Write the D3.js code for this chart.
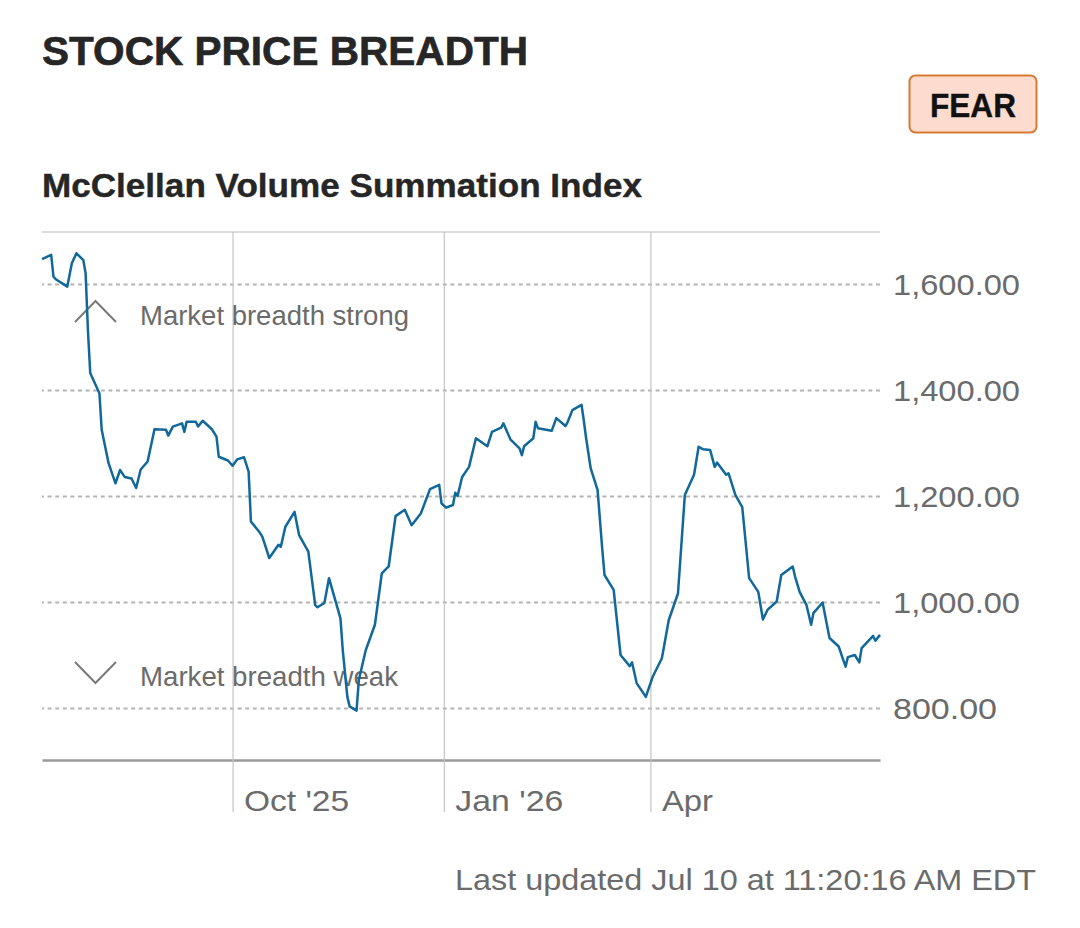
<!DOCTYPE html>
<html>
<head>
<meta charset="utf-8">
<script src="https://cdn.jsdelivr.net/npm/d3@7"></script>
<style>
  html, body { margin: 0; padding: 0; background: #ffffff; }
  svg { display: block; }
  text { font-family: "Liberation Sans", Arial, Helvetica, sans-serif; }
</style>
</head>
<body>
<svg id="chart" width="1080" height="928"></svg>
<script>
// ---- data ----
const dates = [
  "2025-07-10","2025-07-14","2025-07-15","2025-07-16","2025-07-21","2025-07-23","2025-07-25","2025-07-28","2025-07-29","2025-07-30",
  "2025-07-31","2025-08-04","2025-08-05","2025-08-08","2025-08-11","2025-08-13","2025-08-15","2025-08-18","2025-08-20","2025-08-22",
  "2025-08-25","2025-08-28","2025-09-02","2025-09-03","2025-09-05","2025-09-09","2025-09-10","2025-09-11","2025-09-15","2025-09-16",
  "2025-09-18","2025-09-22","2025-09-24","2025-09-25","2025-09-29","2025-10-01","2025-10-03","2025-10-06","2025-10-08","2025-10-09",
  "2025-10-13","2025-10-14","2025-10-17","2025-10-21","2025-10-22","2025-10-24","2025-10-28","2025-10-30","2025-11-03","2025-11-06",
  "2025-11-07","2025-11-10","2025-11-12","2025-11-17","2025-11-18","2025-11-20","2025-11-21","2025-11-24","2025-11-25","2025-11-28",
  "2025-12-02","2025-12-05","2025-12-08","2025-12-11","2025-12-15","2025-12-18","2025-12-22","2025-12-26","2025-12-30","2025-12-31",
  "2026-01-02","2026-01-05","2026-01-06","2026-01-07","2026-01-09","2026-01-12","2026-01-15","2026-01-20","2026-01-22","2026-01-26",
  "2026-01-27","2026-01-30","2026-02-03","2026-02-04","2026-02-05","2026-02-09","2026-02-10","2026-02-11","2026-02-17","2026-02-19",
  "2026-02-23","2026-02-24","2026-02-26","2026-03-02","2026-03-03","2026-03-04","2026-03-06","2026-03-09","2026-03-11","2026-03-12",
  "2026-03-16","2026-03-19","2026-03-23","2026-03-24","2026-03-26","2026-03-30","2026-04-02","2026-04-06","2026-04-09","2026-04-13",
  "2026-04-16","2026-04-20","2026-04-22","2026-04-24","2026-04-27","2026-04-29","2026-04-30","2026-05-04","2026-05-05","2026-05-08",
  "2026-05-11","2026-05-14","2026-05-18","2026-05-20","2026-05-22","2026-05-26","2026-05-28","2026-06-02","2026-06-03","2026-06-05",
  "2026-06-08","2026-06-10","2026-06-11","2026-06-15","2026-06-18","2026-06-22","2026-06-25","2026-06-26","2026-06-29","2026-07-01",
  "2026-07-02","2026-07-07","2026-07-08","2026-07-10"
];
const values = [
  1647,1655,1614,1609,1595,1639,1658,1645,1620,1513,
  1432,1394,1325,1262,1224,1249,1236,1233,1215,1250,
  1265,1326,1325,1314,1331,1337,1321,1340,1340,1331,
  1342,1326,1312,1274,1267,1257,1269,1273,1246,1152,
  1130,1123,1083,1108,1104,1142,1170,1126,1095,994,
  990,998,1045,969,909,821,803,795,853,909,
  957,1054,1067,1162,1174,1145,1167,1213,1221,1186,
  1178,1183,1206,1200,1236,1255,1309,1294,1321,1329,
  1337,1307,1290,1277,1294,1309,1340,1328,1323,1347,
  1332,1340,1362,1372,1342,1309,1252,1211,1101,1051,
  1023,900,879,886,847,821,859,894,966,1016,
  1202,1240,1293,1288,1287,1255,1263,1240,1243,1202,
  1179,1045,1019,967,985,1001,1051,1067,1048,1019,
  994,957,979,999,932,916,878,896,900,886,
  913,936,927,938
];
const yTicks = [800, 1000, 1200, 1400, 1600];
const xTickDates = ["2025-10-01", "2026-01-01", "2026-04-01"];
const xTickLabels = ["Oct '25", "Jan '26", "Apr"];
const domainStart = "2025-07-10";
const domainEnd = "2026-07-10";
const yDomain = [700, 1700];
const titleText = "STOCK PRICE BREADTH";
const subtitleText = "McClellan Volume Summation Index";
const badgeText = "FEAR";
const strongText = "Market breadth strong";
const weakText = "Market breadth weak";
const footerText = "Last updated Jul 10 at 11:20:16 AM EDT";

// ---- drawing ----
(function draw() {
  const parse = d3.timeParse("%Y-%m-%d");
  const data = dates.map((d, i) => ({ date: parse(d), value: values[i] }));

  const svg = d3.select("#chart");
  const pLeft = 42, pRight = 880, pTop = 231, pBottom = 761;
  const grey = "#6b6b6b";
  const xLabelWidths = [105, 108, 51];

  const x = d3.scaleTime().domain([parse(domainStart), parse(domainEnd)]).range([pLeft, pRight]);
  const y = d3.scaleLinear().domain(yDomain).range([pBottom, pTop]);

  // Title
  svg.append("text").attr("x", 42).attr("y", 65)
    .attr("font-size", 40).attr("font-weight", 700).attr("fill", "#262626")
    .attr("stroke", "#262626").attr("stroke-width", 0.6)
    .attr("textLength", 486).attr("lengthAdjust", "spacingAndGlyphs")
    .text(titleText);

  // Badge
  svg.append("rect").attr("x", 909.5).attr("y", 75.5).attr("width", 127).attr("height", 57)
    .attr("rx", 6).attr("fill", "#fddccf").attr("stroke", "#d57a35").attr("stroke-width", 2);
  svg.append("text").attr("x", 973).attr("y", 116.5).attr("text-anchor", "middle")
    .attr("font-size", 34).attr("font-weight", 700).attr("fill", "#111")
    .attr("stroke", "#111").attr("stroke-width", 0.4)
    .attr("textLength", 86).attr("lengthAdjust", "spacingAndGlyphs")
    .text(badgeText);

  // Subtitle
  svg.append("text").attr("x", 42).attr("y", 197)
    .attr("font-size", 33).attr("font-weight", 700).attr("fill", "#262626")
    .attr("stroke", "#262626").attr("stroke-width", 0.4)
    .attr("textLength", 600).attr("lengthAdjust", "spacingAndGlyphs")
    .text(subtitleText);

  // top border line
  svg.append("line").attr("x1", pLeft).attr("x2", pRight).attr("y1", 232).attr("y2", 232)
    .attr("stroke", "#cfcfcf").attr("stroke-width", 1.5);

  // Y axis with dotted gridlines
  const yAxis = d3.axisRight(y).tickValues(yTicks)
    .tickFormat(d3.format(",.2f")).tickSize(-(pRight - pLeft)).tickPadding(13);
  const gy = svg.append("g").attr("transform", `translate(${pRight},0)`).call(yAxis);
  gy.select(".domain").remove();
  gy.selectAll(".tick line").attr("stroke", "#b3b3b3").attr("stroke-width", 2)
    .attr("stroke-dasharray", "4,3.6");
  gy.selectAll(".tick text").attr("fill", grey).attr("font-size", 30)
    .attr("font-family", "'Liberation Sans', Arial, sans-serif")
    .attr("x", 13).attr("dy", "0.36em")
    .attr("textLength", d => d >= 1000 ? 127 : 104).attr("lengthAdjust", "spacingAndGlyphs");

  // X axis with vertical gridlines
  const xAxis = d3.axisBottom(x).tickValues(xTickDates.map(parse))
    .tickFormat((d, i) => xTickLabels[i]).tickSize(52).tickSizeOuter(0);
  const gx = svg.append("g").attr("transform", `translate(0,760)`).call(xAxis);
  gx.select(".domain").attr("stroke", "#9a9a9a").attr("stroke-width", 2.5);
  gx.selectAll(".tick line").attr("y1", -(760 - 232)).attr("stroke", "#c4c4c4").attr("stroke-width", 1.2);
  gx.selectAll(".tick text").attr("fill", grey).attr("font-size", 30)
    .attr("font-family", "'Liberation Sans', Arial, sans-serif")
    .attr("text-anchor", "start").attr("x", 11).attr("y", 51).attr("dy", null)
    .attr("textLength", (d, i) => xLabelWidths[i]).attr("lengthAdjust", "spacingAndGlyphs");

  // annotations
  svg.append("path").attr("d", "M75,322 L95.5,301 L116,322")
    .attr("fill", "none").attr("stroke", "#7a7a7a").attr("stroke-width", 2);
  svg.append("text").attr("x", 140).attr("y", 325).attr("font-size", 27.5).attr("fill", grey)
    .attr("textLength", 269).attr("lengthAdjust", "spacingAndGlyphs").text(strongText);
  svg.append("path").attr("d", "M75,662 L95.5,683 L116,662")
    .attr("fill", "none").attr("stroke", "#7a7a7a").attr("stroke-width", 2);
  svg.append("text").attr("x", 140).attr("y", 686).attr("font-size", 27.5).attr("fill", grey)
    .attr("textLength", 258).attr("lengthAdjust", "spacingAndGlyphs").text(weakText);

  // line
  const line = d3.line().x(d => x(d.date)).y(d => y(d.value));
  svg.append("path").datum(data).attr("d", line)
    .attr("fill", "none").attr("stroke", "#11689a").attr("stroke-width", 2.5)
    .attr("stroke-linejoin", "round");

  // footer
  svg.append("text").attr("x", 1036).attr("y", 890).attr("text-anchor", "end")
    .attr("font-size", 29).attr("fill", grey)
    .attr("textLength", 581).attr("lengthAdjust", "spacingAndGlyphs")
    .text(footerText);
})();
</script>
</body>
</html>
